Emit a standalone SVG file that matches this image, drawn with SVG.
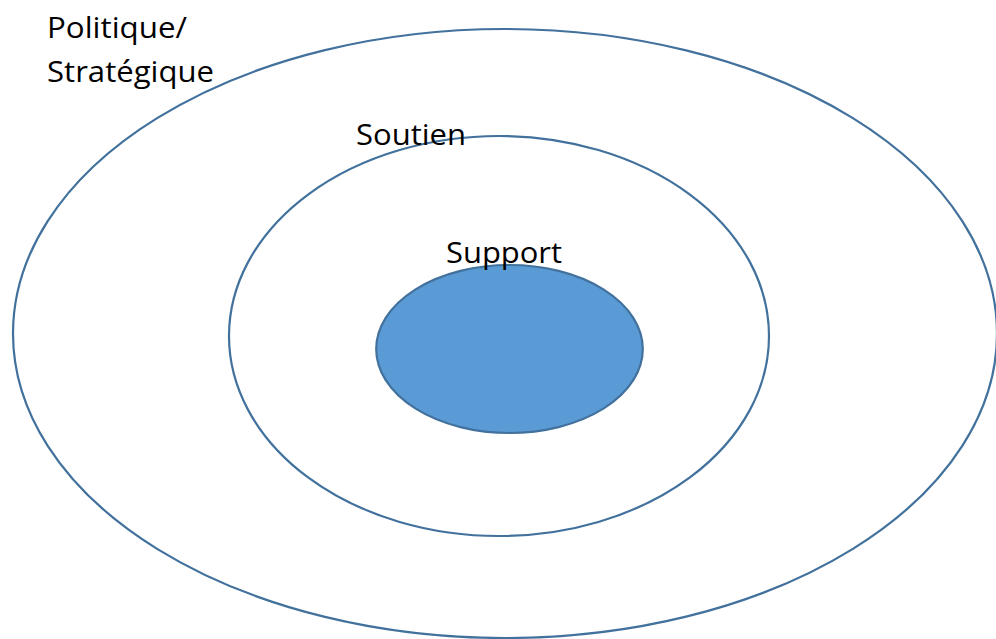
<svg xmlns="http://www.w3.org/2000/svg" width="996" height="639" viewBox="0 0 996 639">
<style>
.ring{fill:none;stroke:#41719C;stroke-width:2.2}
.core{fill:#5B9BD5;stroke:#41719C;stroke-width:2.2}
.lbl{font-family:"Open Sans","Noto Sans","Liberation Sans",sans-serif;font-size:29px;fill:#000}
</style>
<rect width="996" height="639" fill="#fff"/>
<g id="outer">
<ellipse class="ring" cx="505" cy="333.5" rx="492" ry="304.5"/>
<text class="lbl" x="47" y="38" textLength="140" lengthAdjust="spacingAndGlyphs">Politique/</text>
<text class="lbl" x="47" y="82" textLength="167" lengthAdjust="spacingAndGlyphs">Stratégique</text>
</g>
<g id="middle">
<ellipse class="ring" cx="499" cy="336" rx="270" ry="200"/>
<text class="lbl" x="356" y="145" textLength="110" lengthAdjust="spacingAndGlyphs">Soutien</text>
</g>
<g id="inner">
<ellipse class="core" cx="509.5" cy="349" rx="133.3" ry="84"/>
<text class="lbl" x="446" y="263" textLength="116" lengthAdjust="spacingAndGlyphs">Support</text>
</g>
<g id="connectors"/>
</svg>
